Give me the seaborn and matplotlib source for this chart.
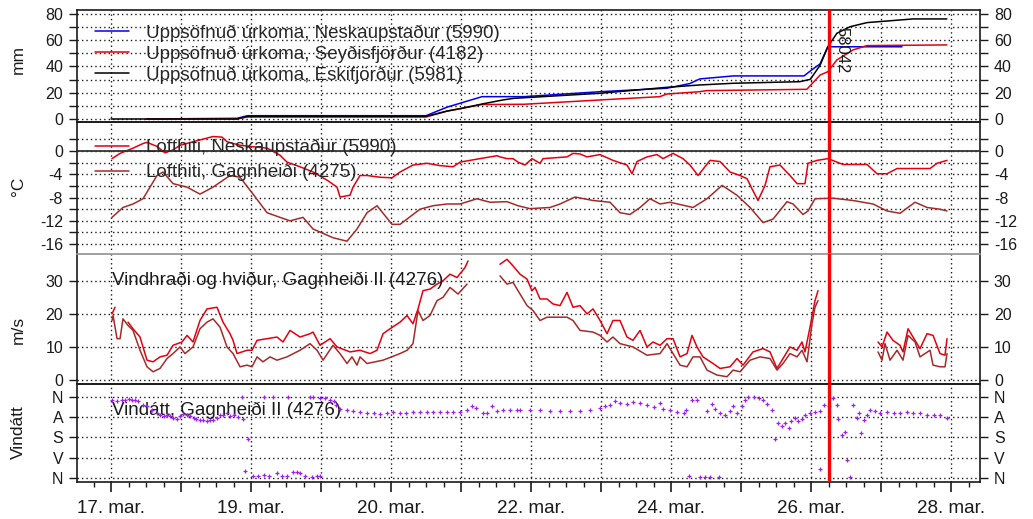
import numpy as np
import pandas as pd
import matplotlib
matplotlib.use("Agg")
import matplotlib.pyplot as plt
from matplotlib.lines import Line2D
from matplotlib.ticker import MultipleLocator
import seaborn as sns

NAN = np.nan

# ── x axis: days from the first tick ──────────────────────────────────────
X_TICK_LABELS = ["17. mar.", "", "19. mar.", "", "20. mar.", "", "22. mar.",
                 "", "24. mar.", "", "26. mar.", "", "28. mar."]
MARK_DAY = 10.26
MARK_LABEL = "58042"

# ── cumulative precipitation (mm) ─────────────────────────────────────────
PR_NES_D = [0.51, 1.8, 1.95, 4.5, 4.8, 5.3, 5.9, 6.99, 7.94, 8.27, 8.41, 8.89, 9.9, 10.0, 10.13, 10.24, 11.3]
PR_NES_V = [0, 0.5, 2.5, 2.5, 9, 17, 17, 20.8, 23.4, 27, 30.5, 32.8, 32.8, 37, 42, 55, 55]
PR_SEY_D = [0.51, 1.8, 1.95, 4.5, 4.8, 5.3, 5.9, 6.99, 7.84, 7.94, 8.41, 8.51, 9.94, 10.13, 10.24, 10.37, 10.6, 10.8, 11.94]
PR_SEY_V = [0, 0, 1.5, 1.5, 6, 11, 11.2, 14.5, 17, 19, 20.8, 21.6, 22.6, 33.5, 36, 45, 52.6, 55.9, 56.4]
PR_ESK_D = [0.0, 1.8, 1.95, 4.5, 4.8, 5.0, 5.3, 5.6, 5.75, 6.99, 7.94, 8.41, 8.89, 9.84, 9.99, 10.13, 10.24, 10.37, 10.56, 10.8, 11.46, 11.94]
PR_ESK_V = [0, 0, 2.0, 2.0, 6, 8, 11.4, 14.5, 15.7, 19.6, 24.1, 25.9, 27.2, 28.4, 30.2, 41, 55, 65.3, 70.3, 73.4, 76.2, 76.2]

# ── air temperature (°C) ──────────────────────────────────────────────────
T_NES_D = [0.014, 0.129, 0.314, 0.457, 0.514, 0.657, 0.771, 0.886, 0.986, 1.171, 1.457, 1.586, 1.657,
           1.843, 2.029, 2.229, 2.414, 2.514, 2.7, 2.886, 3.086, 3.229, 3.271, 3.414, 3.457, 3.557,
           3.657, 3.843, 4.014, 4.129, 4.314, 4.514, 4.7, 4.886, 4.986, 5.271, 5.514, 5.557, 5.657,
           5.743, 5.814, 5.914, 6.014, 6.129, 6.171, 6.514, 6.6, 6.7, 6.8, 6.986, 7.171, 7.371,
           7.443, 7.514, 7.657, 7.8, 7.886, 8.029, 8.171, 8.271, 8.386, 8.557, 8.7, 8.843, 8.986,
           9.086, 9.157, 9.243, 9.343, 9.414, 9.557, 9.7, 9.8, 9.914, 9.957, 10.086, 10.243,
           10.457, 10.8, 10.943, 11.086, 11.229, 11.457, 11.7, 11.8, 11.943]
T_NES_V = [-1.3, -0.4, 0.5, 1.3, 1.5, 0.8, -0.3, 0.2, 1.0, 1.6, 2.5, 2.4, 1.6,
           1.0, 0.75, 0.5, -0.7, -1.9, -2.7, -3.6, -5.0, -6.2, -7.9, -7.6, -6.2, -4.2,
           -4.2, -4.5, -4.6, -3.6, -2.4, -2.1, -2.5, -2.7, -1.9, -1.3, -0.8, -1.0, -1.3,
           -1.3, -1.9, -2.4, -1.3, -2.1, -1.3, -1.0, -0.4, -0.5, -1.0, -0.6, -1.6, -2.4,
           -3.9, -1.8, -1.0, -0.6, -1.3, -0.4, -1.3, -2.4, -4.2, -1.6, -1.8, -3.6, -4.2,
           -4.75, -6.5, -8.5, -5.9, -2.7, -2.4, -4.2, -5.6, -5.6, -2.1, -1.6, -1.3,
           -2.3, -2.3, -3.9, -3.9, -3.0, -3.0, -3.0, -2.1, -1.6]
T_GAG_D = [0.014, 0.171, 0.314, 0.457, 0.657, 0.743, 0.886, 1.086, 1.271, 1.457, 1.7, 1.843, 2.029,
           2.229, 2.414, 2.557, 2.743, 2.886, 3.171, 3.371, 3.514, 3.657, 3.8, 4.014, 4.129, 4.414,
           4.6, 4.8, 4.986, 5.229, 5.414, 5.657, 5.814, 5.986, 6.271, 6.414, 6.629, 6.886, 7.129,
           7.271, 7.414, 7.557, 7.7, 7.843, 7.986, 8.314, 8.514, 8.729, 8.943, 9.129, 9.314, 9.457,
           9.657, 9.743, 9.886, 9.957, 10.057, 10.314, 10.6, 10.886, 11.086, 11.271, 11.486,
           11.657, 11.843, 11.943]
T_GAG_V = [-11.4, -9.7, -9.1, -8.2, -4.2, -3.6, -5.6, -6.2, -7.4, -6.2, -4.2, -4.5, -7.4,
           -10.6, -11.4, -12.0, -11.4, -13.4, -14.9, -15.5, -13.4, -10.6, -9.4, -12.6, -12.6, -10.0,
           -9.4, -9.1, -9.1, -8.2, -8.8, -8.7, -9.4, -9.9, -9.7, -9.1, -7.9, -8.5, -8.8,
           -10.6, -10.9, -9.7, -8.2, -9.1, -8.8, -9.7, -8.2, -5.9, -7.6, -9.7, -12.3, -11.7,
           -8.7, -9.1, -10.9, -10.3, -8.2, -8.1, -8.5, -9.1, -10.3, -10.7, -8.8,
           -9.7, -10.0, -10.3]

# ── wind speed and gusts (m/s), NaN = no data ─────────────────────────────
GUST_D = [0.014, 0.057, NAN,
          0.243, 0.314, 0.414, 0.514, 0.6, 0.7, 0.8, 0.886, 1.014, 1.086, 1.171, 1.271, 1.371, 1.514,
          1.6, 1.7, 1.743, 1.8, 1.943, 2.014, 2.086, 2.229, 2.371, 2.457, 2.557, 2.7, 2.843, 2.886,
          2.986, 3.129, 3.229, 3.414, 3.557, 3.7, 3.8, 3.886, 3.986, 4.129, 4.229, 4.314, 4.386,
          4.457, 4.557, 4.657, 4.743, 4.843, 4.943, 5.057, 5.1, NAN,
          5.557, 5.657, 5.743, 5.843, 5.943, 6.014, 6.057, 6.129, 6.229, 6.314, 6.414, 6.514, 6.6,
          6.7, 6.8, 6.886, 6.986, 7.086, 7.171, 7.271, 7.371, 7.457, 7.557, 7.657, 7.743, 7.843,
          7.943, 8.029, 8.129, 8.229, 8.3, 8.371, 8.457, 8.6, 8.7, 8.843, 8.943, 9.029, 9.171,
          9.314, 9.414, 9.514, 9.6, 9.7, 9.8, 9.871, 9.914, 9.986, 10.057, 10.1, NAN,
          10.957, 11.014, 11.086, 11.171, 11.271, 11.314, 11.386, 11.457, 11.557, 11.657, 11.743,
          11.843, 11.914, 11.943]
GUST_V = [20, 22, NAN,
          17.5, 15.5, 13, 6, 5.5, 7, 7.5, 10.5, 11.5, 13.5, 11.5, 18, 21.5, 22,
          17.5, 14, 12, 8, 9, 9, 12, 12.5, 13, 11.5, 15, 13, 14, 14.5,
          10.5, 12.5, 10, 8.5, 9, 8, 9, 14, 15.5, 17.5, 19.5, 17, 21.5,
          27, 27.5, 29, 30, 32, 31, 34, 36, NAN,
          35, 36.5, 34.5, 32, 30.5, 27, 28, 24.5, 24.5, 23, 22.5, 26.5, 22,
          22.5, 20, 21.5, 18, 14, 18, 18, 13, 12, 15, 10, 11.5, 10.5,
          12.5, 12.5, 7, 8, 13.5, 10, 7, 5, 3.5, 4, 6.5, 4.5, 8.5,
          9.5, 8.5, 3.5, 6.5, 10, 9, 11.5, 8.5, 16, 24, 27, NAN,
          11.5, 10, 14.5, 12, 10.5, 8.5, 15.5, 13, 9.5, 14, 13.5,
          8, 7.5, 12.5]
MEAN_D = [0.014, 0.029, 0.086, 0.129, 0.171, 0.243, 0.314, 0.414, 0.514, 0.6, 0.7, 0.8, 0.886, 0.986,
          1.057, 1.171, 1.271, 1.371, 1.457, 1.557, 1.657, 1.743, 1.843, 1.943, 2.014, 2.086, 2.171,
          2.271, 2.371, 2.514, 2.7, 2.843, 2.943, 3.029, 3.171, 3.271, 3.371, 3.443, 3.514, 3.557,
          3.657, 3.886, 4.129, 4.229, 4.314, 4.386, 4.457, 4.557, 4.657, 4.743, 4.843, 4.957, 5.086, NAN,
          5.557, 5.657, 5.743, 5.843, 5.943, 6.029, 6.129, 6.229, 6.371, 6.514, 6.6, 6.7, 6.886,
          6.986, 7.086, 7.171, 7.271, 7.457, 7.657, 7.843, 7.943, 8.029, 8.129, 8.229, 8.314, 8.414,
          8.514, 8.657, 8.8, 8.886, 8.986, 9.129, 9.271, 9.414, 9.514, 9.6, 9.7, 9.8, 9.871, 9.943,
          10.014, 10.057, 10.1, NAN,
          10.957, 11.014, 11.057, 11.129, 11.229, 11.314, 11.386, 11.486, 11.557, 11.7, 11.743,
          11.843, 11.914, 11.943]
MEAN_V = [18, 19.5, 12.5, 12.5, 18.5, 16.5, 15, 9, 4, 2.5, 3.5, 6.5, 8, 10,
          8, 10, 15.5, 17.5, 18.5, 16, 10, 8, 4, 4.5, 4, 7, 5.5,
          7, 6, 7, 9, 11, 9, 6, 10.5, 8, 5, 7, 4.5, 7,
          5, 6, 8, 9, 11, 21, 18, 19.5, 24, 25, 28, 26, 29, NAN,
          31.5, 29, 29.5, 26, 22.5, 21, 18, 19, 19, 19, 18, 15, 14.5,
          13.5, 11.5, 13, 11, 10, 7.5, 8, 11, 8, 4.5, 4, 7, 7,
          3, 1.5, 1, 3, 2.5, 6, 7, 6.5, 3, 5, 8, 7, 9, 5.5,
          17, 22, 24, NAN,
          8.5, 6, 11, 6, 9, 6, 13.5, 11.5, 7, 9, 4.5,
          4, 4, 8]

# ── wind direction (degrees) ──────────────────────────────────────────────
DIR_D = [0.01, 0.08, 0.15, 0.20, 0.25, 0.30, 0.34, 0.39, 0.46, 0.51, 0.58, 0.65, 0.70, 0.75, 0.80,
         0.84, 0.89, 0.94, 0.99, 1.03, 1.08, 1.13, 1.18, 1.22, 1.27, 1.32, 1.37, 1.41, 1.46, 1.51,
         1.56, 1.60, 1.65, 1.70, 1.75, 1.82, 1.87, 1.89, 1.91, 1.96, 2.03, 2.10, 2.18, 2.18, 2.25,
         2.32, 2.37, 2.44, 2.51, 2.53, 2.60, 2.65, 2.70, 2.77, 2.84, 2.87, 2.89, 2.94, 2.99, 2.99,
         3.06, 3.13, 3.18, 3.22, 3.27, 3.37, 3.46, 3.56, 3.65, 3.75, 3.84, 3.94, 4.03, 4.13, 4.22,
         4.32, 4.41, 4.51, 4.60, 4.70, 4.80, 4.89, 4.99, 5.08, 5.15, 5.22, 5.32, 5.37, 5.44, 5.51,
         5.60, 5.70, 5.80, 5.84, 5.99, 6.13, 6.27, 6.41, 6.56, 6.70, 6.84, 6.99, 7.06, 7.13, 7.20,
         7.27, 7.37, 7.46, 7.56, 7.65, 7.75, 7.84, 7.89, 7.98, 8.08, 8.18, 8.22, 8.25, 8.30, 8.37,
         8.41, 8.49, 8.51, 8.56, 8.58, 8.63, 8.68, 8.70, 8.77, 8.84, 8.89, 8.94, 9.01, 9.06, 9.10,
         9.18, 9.25, 9.32, 9.37, 9.44, 9.49, 9.53, 9.58, 9.63, 9.68, 9.72, 9.77, 9.82, 9.87, 9.92,
         9.99, 10.06, 10.13, 10.13, 10.18, 10.25, 10.32, 10.37, 10.39, 10.44, 10.48, 10.51, 10.56,
         10.60, 10.65, 10.69, 10.72, 10.76, 10.80, 10.84, 10.92, 10.99, 11.08, 11.18, 11.27, 11.37,
         11.46, 11.56, 11.65, 11.75, 11.84, 11.94]
DIR_V = [12, 19, 15, 12, 9, 12, 15, 19, 34, 41, 56, 71, 78, 85, 82,
         85, 93, 97, 85, 75, 78, 85, 93, 97, 100, 103, 107, 104, 100, 93,
         82, 78, 71, 85, 82, 88, 0, 97, 328, 188, 352, 350, 2, 347, 350,
         2, 338, 350, 352, 2, 335, 332, 338, 350, 2, 357, 2, 350, 352, 4,
         4, 12, 19, 34, 53, 59, 63, 66, 71, 73, 75, 71, 68, 71, 73,
         68, 66, 66, 66, 66, 66, 66, 68, 56, 41, 48, 71, 73, 41, 63,
         59, 59, 56, 59, 56, 59, 63, 60, 60, 60, 59, 48, 41, 34, 19,
         26, 29, 24, 26, 34, 44, 26, 53, 59, 66, 71, 59, 353, 15, 15,
         357, 357, 63, 357, 29, 53, 357, 71, 78, 63, 41, 71, 41, 12, 0,
         0, 4, 12, 29, 56, 185, 115, 129, 115, 137, 107, 93, 107, 97, 78,
         71, 68, 63, 320, 34, 41, 4, 34, 97, 170, 156, 281, 357,
         34, 93, 71, 159, 100, 78, 59, 63, 73, 68, 73, 71, 68,
         71, 71, 78, 82, 78, 93]

LEG_PR = ["Uppsöfnuð úrkoma, Neskaupstaður (5990)",
          "Uppsöfnuð úrkoma, Seyðisfjörður (4182)",
          "Uppsöfnuð úrkoma, Eskifjörður (5981)"]
LEG_T = ["Lofthiti, Neskaupstaður (5990)", "Lofthiti, Gagnheiði (4275)"]
TXT_WIND = "Vindhraði og hviður, Gagnheiði II (4276)"
TXT_DIR = "Vindátt, Gagnheiði II (4276)"

# ── palette ───────────────────────────────────────────────────────────────
RED = "#e3000f"
BROWN = "#a52a2a"
BLUE = "#0000ee"
PURPLE = "#a020f0"
INK = "#1a1a1a"
DOT = (0, (1, 2.2))
FS_TXT = 13.5

sns.set_theme(style="white")
plt.rcParams["font.family"] = ["Liberation Sans", "DejaVu Sans"]
plt.rcParams["font.size"] = 12

W, H = 1033, 519
XMIN, XMAX = -0.486, 12.414
fig = plt.figure(figsize=(W / 100, H / 100), dpi=100)


def box(top, bottom):
    return [77 / W, 1 - bottom / H, (980 - 77) / W, (bottom - top) / H]


ax1 = fig.add_axes(box(10, 122))
ax2 = fig.add_axes(box(122, 254))
ax3 = fig.add_axes(box(254, 384))
ax4 = fig.add_axes(box(384, 482))


def frame(ax, ylim, ticks, labels):
    ax.set_xlim(XMIN, XMAX)
    ax.set_ylim(*ylim)
    ax.set_yticks(ticks)
    ax.set_yticklabels(labels)
    ax.set_xticks(range(13))
    ax.tick_params(axis="y", which="both", direction="out", length=6, width=1,
                   left=True, right=True, labelleft=True, labelright=True,
                   color=INK, labelcolor=INK, labelsize=11.5, pad=4)
    ax.tick_params(axis="x", length=0, labelbottom=False)
    ax.grid(True, color=INK, lw=1.0, ls=DOT)
    ax.set_facecolor("none")
    for s in ax.spines.values():
        s.set_color(INK)
        s.set_linewidth(1.2)
    ax.axvline(MARK_DAY, color="red", lw=2.4, zorder=6)


def series(days, vals):
    df = pd.DataFrame({"d": days, "v": vals})
    df["seg"] = df["v"].isna().cumsum()
    return df.dropna()


# ── panel 1: precipitation ───────────────────────────────────────────────
for d, v, c in [(PR_NES_D, PR_NES_V, BLUE), (PR_SEY_D, PR_SEY_V, RED), (PR_ESK_D, PR_ESK_V, "black")]:
    sns.lineplot(data=series(d, v), x="d", y="v", color=c, lw=1.1, estimator=None, ax=ax1)
frame(ax1, (-2.3, 83.0), np.arange(0, 81, 10),
      ["0", "", "20", "", "40", "", "60", "", "80"])
ax1.legend([Line2D([], [], color=c, lw=1.1) for c in (BLUE, RED, "black")], LEG_PR,
           loc="upper left", bbox_to_anchor=(0.02, 0.87), frameon=False, fontsize=FS_TXT,
           borderpad=0, borderaxespad=0, labelspacing=0.2, handlelength=1.8, handletextpad=0.9)
ax1.annotate(MARK_LABEL, xy=(MARK_DAY, 1), xycoords=("data", "axes fraction"),
             xytext=(3.6, -12), textcoords="offset points", rotation=-90,
             ha="left", va="top", fontsize=12, color=INK)

# ── panel 2: temperature ────────────────────────────────────────────────
sns.lineplot(data=series(T_NES_D, T_NES_V), x="d", y="v", color=RED, lw=1.1, estimator=None, ax=ax2)
sns.lineplot(data=series(T_GAG_D, T_GAG_V), x="d", y="v", color=BROWN, lw=1.1, estimator=None, ax=ax2)
frame(ax2, (-17.7, 5.0), np.arange(-16, 3, 2),
      ["-16", "", "-12", "", "-8", "", "-4", "", "0", ""])
ax2.axhline(0, color="#333333", lw=1.3, zorder=3)
ax2.spines["bottom"].set_color("#a0a0a0")
ax2.legend([Line2D([], [], color=c, lw=1.1) for c in (RED, BROWN)], LEG_T,
           loc="upper left", bbox_to_anchor=(0.02, 0.87), frameon=False, fontsize=FS_TXT,
           borderpad=0, borderaxespad=0, labelspacing=0.4, handlelength=1.8, handletextpad=0.9)

# ── panel 3: wind speed / gusts ───────────────────────────────────────────
sns.lineplot(data=series(GUST_D, GUST_V), x="d", y="v", units="seg", estimator=None,
             color=RED, lw=1.1, ax=ax3)
sns.lineplot(data=series(MEAN_D, MEAN_V), x="d", y="v", units="seg", estimator=None,
             color=BROWN, lw=1.1, ax=ax3)
frame(ax3, (-1.2, 38.1), [0, 10, 20, 30], ["0", "10", "20", "30"])
ax3.spines["top"].set_color("#a0a0a0")
ax3.text(0.039, 0.8, TXT_WIND, transform=ax3.transAxes, ha="left", va="center",
         fontsize=FS_TXT, color=INK)

# ── panel 4: wind direction ──────────────────────────────────────────────
sns.scatterplot(x=DIR_D, y=DIR_V, marker="+", s=11, color=PURPLE, linewidth=0.9, ax=ax4, zorder=4)
frame(ax4, (378, -58), [0, 90, 180, 270, 360], ["N", "A", "S", "V", "N"])
ax4.text(0.039, 0.735, TXT_DIR, transform=ax4.transAxes, ha="left", va="center",
         fontsize=FS_TXT, color=INK)
ax4.set_xticks(range(13))
ax4.set_xticklabels(X_TICK_LABELS)
ax4.xaxis.set_minor_locator(MultipleLocator(0.25))
ax4.tick_params(axis="x", which="major", direction="out", length=7, width=1.2,
                bottom=True, labelbottom=True, color=INK, labelcolor=INK, labelsize=13.5, pad=6)
ax4.tick_params(axis="x", which="minor", direction="out", length=3.5, width=1,
                bottom=True, color=INK)

for ax in (ax1, ax2, ax3, ax4):
    ax.set_xlabel("")
    ax.set_ylabel("")

for lab, y in [("mm", 59), ("°C", 186), ("m/s", 330), ("Vindátt", 432)]:
    fig.text(18 / W, 1 - y / H, lab, rotation=90, ha="center", va="center", fontsize=12.5, color=INK)

fig.savefig("out.png", dpi=100, facecolor="white")
